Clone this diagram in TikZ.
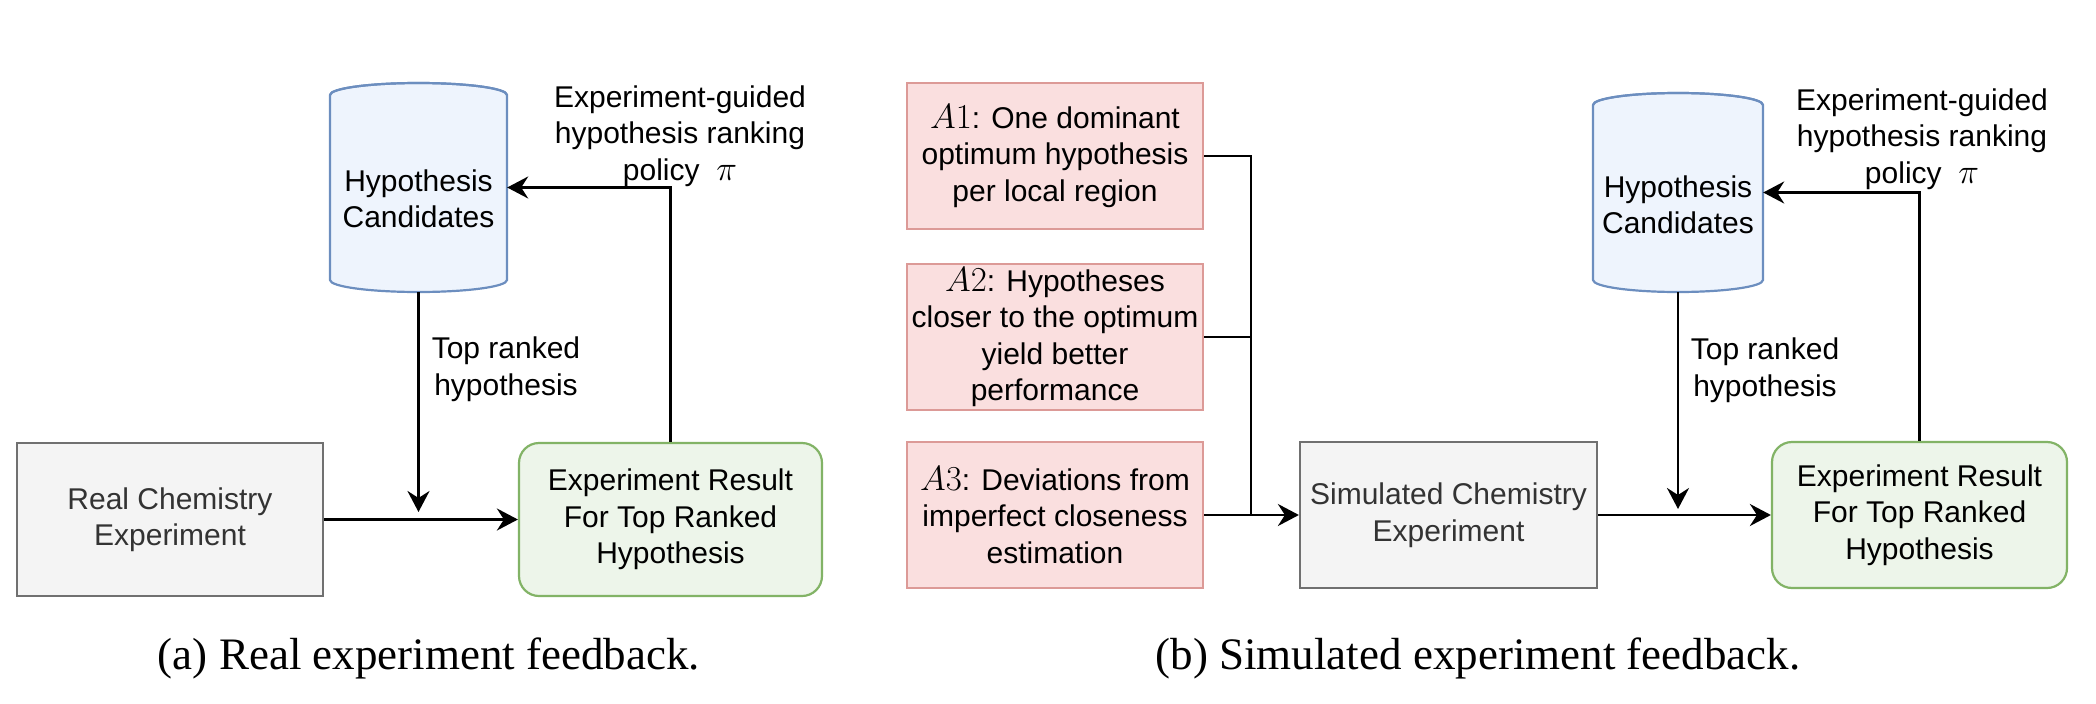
\documentclass[tikz,border=0pt]{standalone}
\usepackage{fix-cm}
\usepackage[no-math]{fontspec}
\setmainfont{Liberation Sans}
\newfontfamily\capfont{Liberation Serif}
\usetikzlibrary{arrows.meta}
\definecolor{cylfill}{HTML}{EEF4FD}
\definecolor{cyldraw}{HTML}{6C8EBF}
\definecolor{grnfill}{HTML}{EDF5EA}
\definecolor{grndraw}{HTML}{82B366}
\definecolor{redfill}{HTML}{FADFDF}
\definecolor{reddraw}{HTML}{DC9A97}
\definecolor{gryfill}{HTML}{F4F4F4}
\definecolor{grydraw}{HTML}{707070}
\definecolor{grytext}{HTML}{333333}
\newcommand\bigmath[1]{\mbox{\fontsize{35}{36.5}\selectfont$#1$}}
\tikzset{
  base/.style={inner sep=0pt, align=center},
  greybox/.style={base, draw=grydraw, fill=gryfill, line width=2.2pt, text=grytext},
  greenbox/.style={base, draw=grndraw, fill=grnfill, line width=2.2pt, rounded corners=20pt},
  assumbox/.style={base, draw=reddraw, fill=redfill, line width=2.2pt, minimum width=296pt, minimum height=146pt},
  cylarea/.style={base},
  cylbody/.style={draw=cyldraw, fill=cylfill, line width=2.2pt},
  conn/.style={line width=2.6pt, -{Stealth[length=21pt,width=22pt,inset=7pt]}},
  plain/.style={line width=2.6pt},
  lbl/.style={base},
  caption/.style={base, font=\capfont\fontsize{45}{50}\selectfont},
}
\begin{document}
\begin{tikzpicture}[x=1pt,y=-1pt,font=\fontsize{30}{36.5}\selectfont]
\useasboundingbox (0,0) rectangle (2096,704);

% ---------------- (a) ----------------
\path[cylbody] (330,95) -- (330,280) arc[start angle=180,end angle=0,x radius=88.5,y radius=12]
  -- (507,95) arc[start angle=0,end angle=-180,x radius=88.5,y radius=12] -- cycle;
\draw[cylbody, fill=none] (330,95) arc[start angle=180,end angle=360,x radius=88.5,y radius=12];
\node[cylarea, minimum width=177pt, minimum height=209pt] (cylA) at (418.5,187.5) {};
\node[lbl] (cylAt) at (418.5,199) {Hypothesis\\Candidates};

\node[greybox, minimum width=306pt, minimum height=153pt] (realA) at (170,519.5) {Real Chemistry\\Experiment};
\node[greenbox, minimum width=303pt, minimum height=153pt] (resA) at (670.5,519.5) {Experiment Result\\For Top Ranked\\Hypothesis};

\node[lbl] (polA) at (680,136) {Experiment-guided\\hypothesis ranking\\policy \ \bigmath{\pi}};
\node[lbl] (topA) at (506,369) {Top ranked\\hypothesis};

\coordinate (jA) at (418.5,512);
\draw[conn] (realA.east) -- (resA.west);
\draw[conn] (cylA.south) -- (jA);
\draw[conn] (resA.north) |- (cylA.east);

\node[caption] (capA) at (429,658) {(a) Real experiment feedback.};

% ---------------- (b) ----------------
\node[assumbox] (a1) at (1055,156) {\bigmath{A1}: One dominant\\optimum hypothesis\\per local region};
\node[assumbox] (a2) at (1055,337) {\bigmath{A2}: Hypotheses\\closer to the optimum\\yield better\\performance};
\node[assumbox] (a3) at (1055,515) {\bigmath{A3}: Deviations from\\imperfect closeness\\estimation};

\node[greybox, minimum width=297pt, minimum height=146pt] (simB) at (1448.5,515) {Simulated Chemistry\\Experiment};

\path[cylbody] (1593,105) -- (1593,280) arc[start angle=180,end angle=0,x radius=85,y radius=12]
  -- (1763,105) arc[start angle=0,end angle=-180,x radius=85,y radius=12] -- cycle;
\draw[cylbody, fill=none] (1593,105) arc[start angle=180,end angle=360,x radius=85,y radius=12];
\node[cylarea, minimum width=170pt, minimum height=199pt] (cylB) at (1678,192.5) {};
\node[lbl] (cylBt) at (1678,205) {Hypothesis\\Candidates};

\node[greenbox, minimum width=295pt, minimum height=146pt] (resB) at (1919.5,515) {Experiment Result\\For Top Ranked\\Hypothesis};

\node[lbl] (polB) at (1922,139) {Experiment-guided\\hypothesis ranking\\policy \ \bigmath{\pi}};
\node[lbl] (topB) at (1765,370) {Top ranked\\hypothesis};

\coordinate (bus) at (1251,515);
\draw[plain] (a1.east) -| (bus);
\draw[plain] (a2.east) -| (bus);
\draw[conn] (a3.east) -- (simB.west);

\coordinate (jB) at (1678,509);
\draw[conn] (simB.east) -- (resB.west);
\draw[conn] (cylB.south) -- (jB);
\draw[conn] (resB.north) |- (cylB.east);

\node[caption] (capB) at (1478,658) {(b) Simulated experiment feedback.};
\end{tikzpicture}
\end{document}
